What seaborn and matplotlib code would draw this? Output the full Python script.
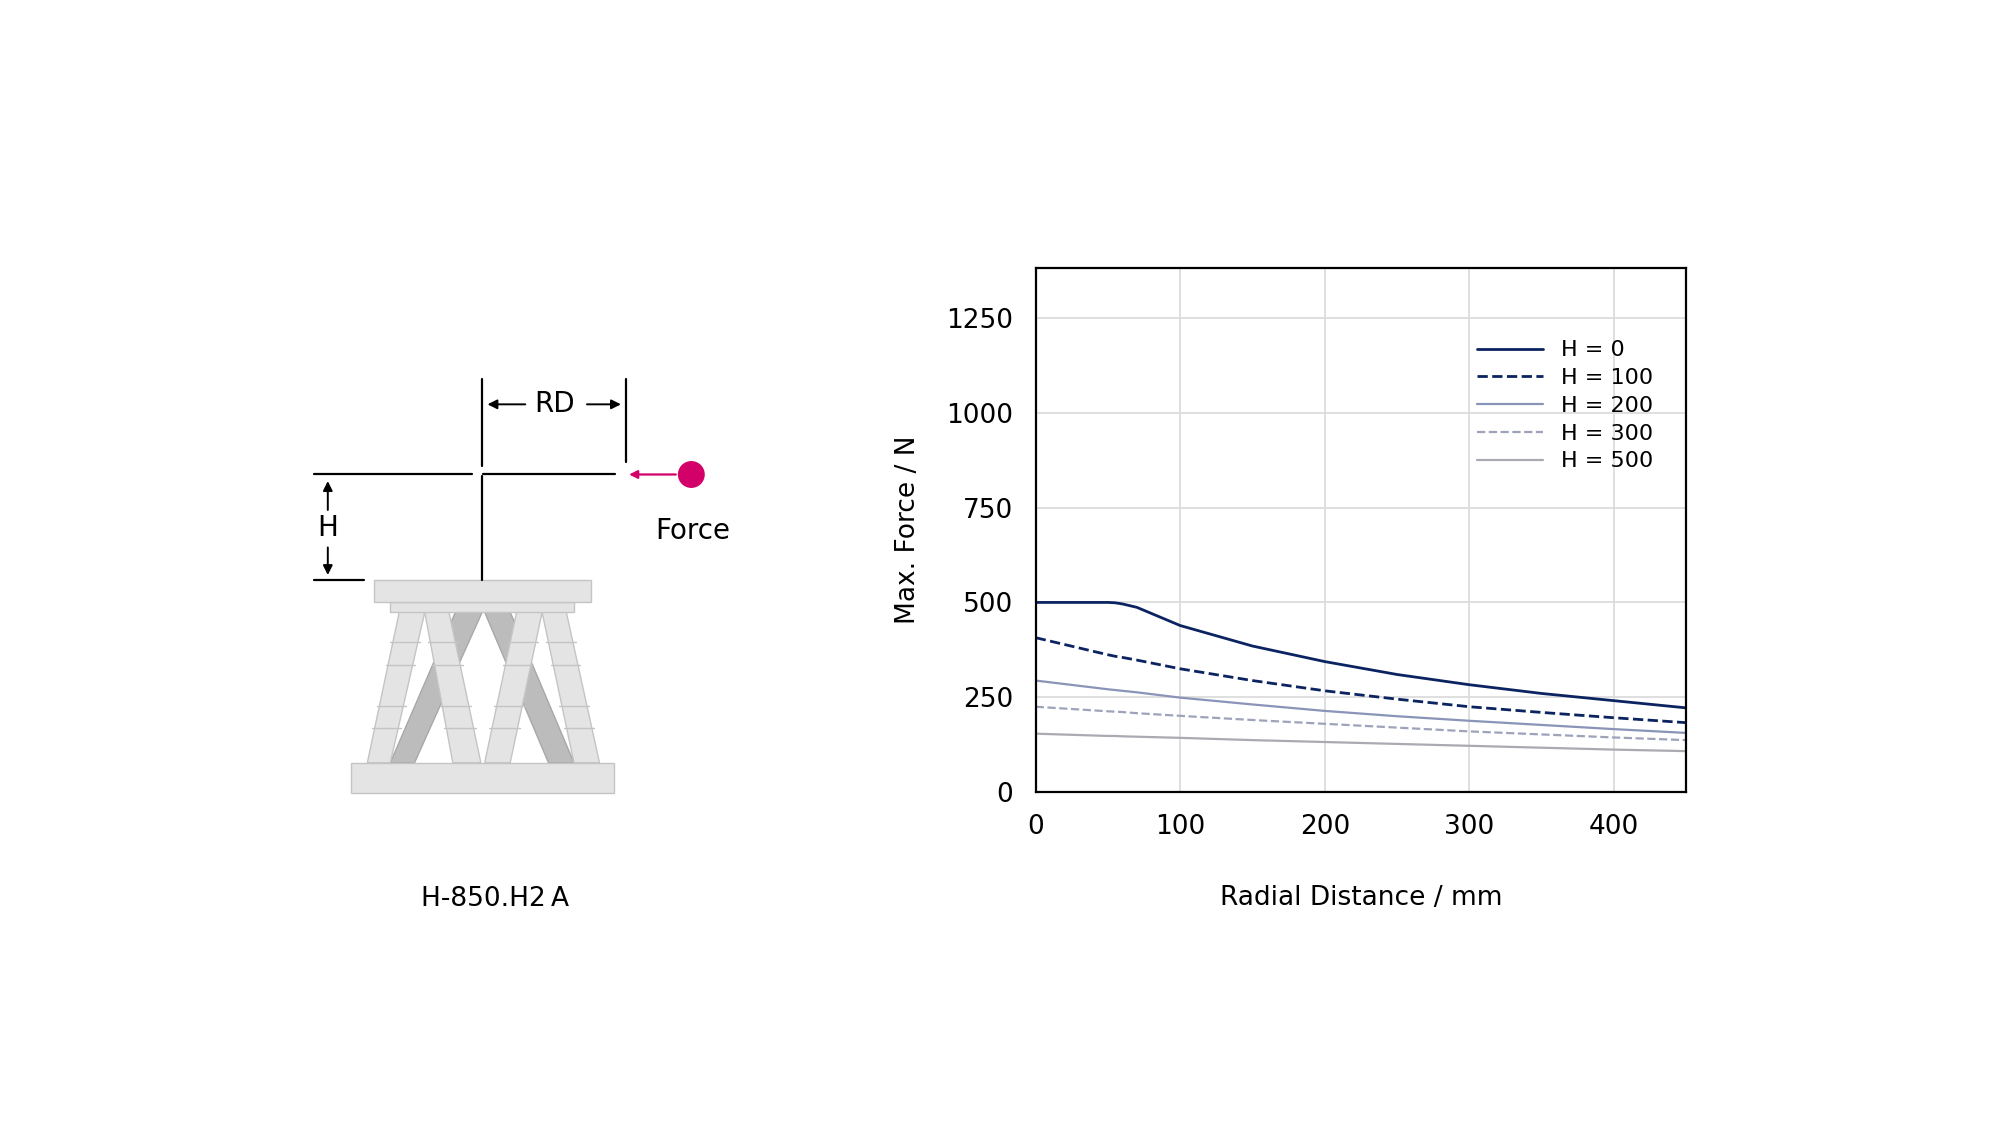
import matplotlib
matplotlib.use("Agg")
import matplotlib.pyplot as plt
import seaborn as sns
import pandas as pd
from matplotlib.patches import Rectangle, Polygon, Circle

sns.set_theme(style="white")
plt.rcParams['font.family'] = ['DejaVu Sans']
plt.rcParams['text.color'] = 'black'
plt.rcParams['axes.labelcolor'] = 'black'
plt.rcParams['xtick.color'] = 'black'
plt.rcParams['ytick.color'] = 'black'

rd = [0, 50, 55, 60, 70, 100, 150, 200, 250, 300, 350, 400, 450]
h0 = [500, 500, 499, 496, 487, 439, 385, 344, 310, 283, 260, 241, 222]
h100 = [407, 362, 358, 355, 348, 325, 294, 267, 245, 225, 210, 196, 183]
h200 = [294, 271, 269, 267, 263, 249, 231, 214, 200, 188, 177, 166, 156]
h300 = [225, 213, 212, 211, 208, 201, 190, 180, 170, 160, 152, 144, 137]
h500 = [154, 148, 148, 147, 146, 143, 137, 132, 127, 122, 117, 112, 108]
labels = ["H = 0", "H = 100", "H = 200", "H = 300", "H = 500"]
colors = ["#0b2360", "#0b2360", "#8a94b8", "#9ea3bb", "#aaaab2"]
styles = ["-", "--", "-", "--", "-"]
widths = [2.0, 2.0, 1.6, 1.6, 1.6]

fig = plt.figure(figsize=(20, 11.25), dpi=100)

d = fig.add_axes([0, 0, 1, 1])
d.set_xlim(0, 1568); d.set_ylim(882, 0); d.axis("off")
k = dict(color="black", lw=1.6)
d.plot([246, 370], [372, 372], **k); d.plot([379, 482], [372, 372], **k)
d.plot([378, 378], [297, 365], **k); d.plot([378, 378], [373, 455], **k)
d.plot([491, 491], [297, 362], **k)
d.plot([246, 285], [455, 455], **k)
ap = dict(arrowstyle="-|>", color="black", lw=1.4, mutation_scale=14)
d.annotate("", xy=(380, 317), xytext=(414, 317), arrowprops=ap)
d.annotate("", xy=(489, 317), xytext=(458, 317), arrowprops=ap)
d.text(435, 317, "RD", ha="center", va="center", fontsize=20)
d.annotate("", xy=(257, 375), xytext=(257, 402), arrowprops=ap)
d.annotate("", xy=(257, 453), xytext=(257, 427), arrowprops=ap)
d.text(257, 414, "H", ha="center", va="center", fontsize=20)
d.annotate("", xy=(491, 372), xytext=(532, 372),
           arrowprops=dict(arrowstyle="-|>", color="#d4006a", lw=1.6, mutation_scale=12))
d.add_patch(Circle((542, 372), 10, color="#d4006a", zorder=5))
d.text(543, 416, "Force", ha="center", va="center", fontsize=20)
d.text(388, 705, "H-850.H2\u2009A", ha="center", va="center", fontsize=19)
light = dict(facecolor="#e4e4e4", edgecolor="#c4c4c4", lw=1)
dark = dict(facecolor="#bcbcbc", edgecolor="#a8a8a8", lw=1)
for poly in [[(357, 480), (378, 480), (325, 598), (306, 598)],
             [(380, 480), (400, 480), (450, 598), (430, 598)]]:
    d.add_patch(Polygon(poly, **dark))
for poly in [[(313, 480), (333, 480), (306, 598), (288, 598)],
             [(333, 480), (352, 480), (377, 598), (355, 598)],
             [(405, 480), (425, 480), (400, 598), (380, 598)],
             [(425, 480), (444, 480), (470, 598), (450, 598)]]:
    d.add_patch(Polygon(poly, **light))
    (x1, y1), (x2, _), (x3, y3), (x4, _) = poly
    for t in [0.2, 0.35, 0.62, 0.77]:
        ya = y1 + t * (y3 - y1)
        xa = x1 + t * (x4 - x1); xb = x2 + t * (x3 - x2)
        d.plot([xa - 2, xb + 2], [ya, ya], color="#c4c4c4", lw=1)
d.add_patch(Rectangle((306, 472), 144, 8, **light))
d.add_patch(Rectangle((293, 455), 170, 17, **light))
d.add_patch(Rectangle((275, 598), 206, 24, **light))

ax = fig.add_axes([812/1568, (882-621)/882, 510/1568, 411/882])
for y, lab, c, s, w in zip([h0, h100, h200, h300, h500], labels, colors, styles, widths):
    df = pd.DataFrame({"rd": rd, "f": y})
    sns.lineplot(data=df, x="rd", y="f", ax=ax, color=c, linestyle=s, lw=w, label=lab)
ax.set_xlim(0, 450); ax.set_ylim(0, 1382)
ax.set_xticks([0, 100, 200, 300, 400]); ax.set_yticks([0, 250, 500, 750, 1000, 1250])
ax.grid(True, color="#dcdcdc", lw=1.3)
for sp in ax.spines.values():
    sp.set_color("black"); sp.set_linewidth(1.6)
ax.tick_params(labelsize=19, length=0, pad=16)
ax.set_xlabel("Radial Distance / mm", fontsize=19, labelpad=32)
ax.set_ylabel("Max. Force / N", fontsize=19, labelpad=18)
ax.legend(loc="upper right", bbox_to_anchor=(0.98, 0.9), frameon=False, fontsize=16,
          handlelength=3, labelspacing=0.35)
fig.savefig("out.png", dpi=100, facecolor="white")
